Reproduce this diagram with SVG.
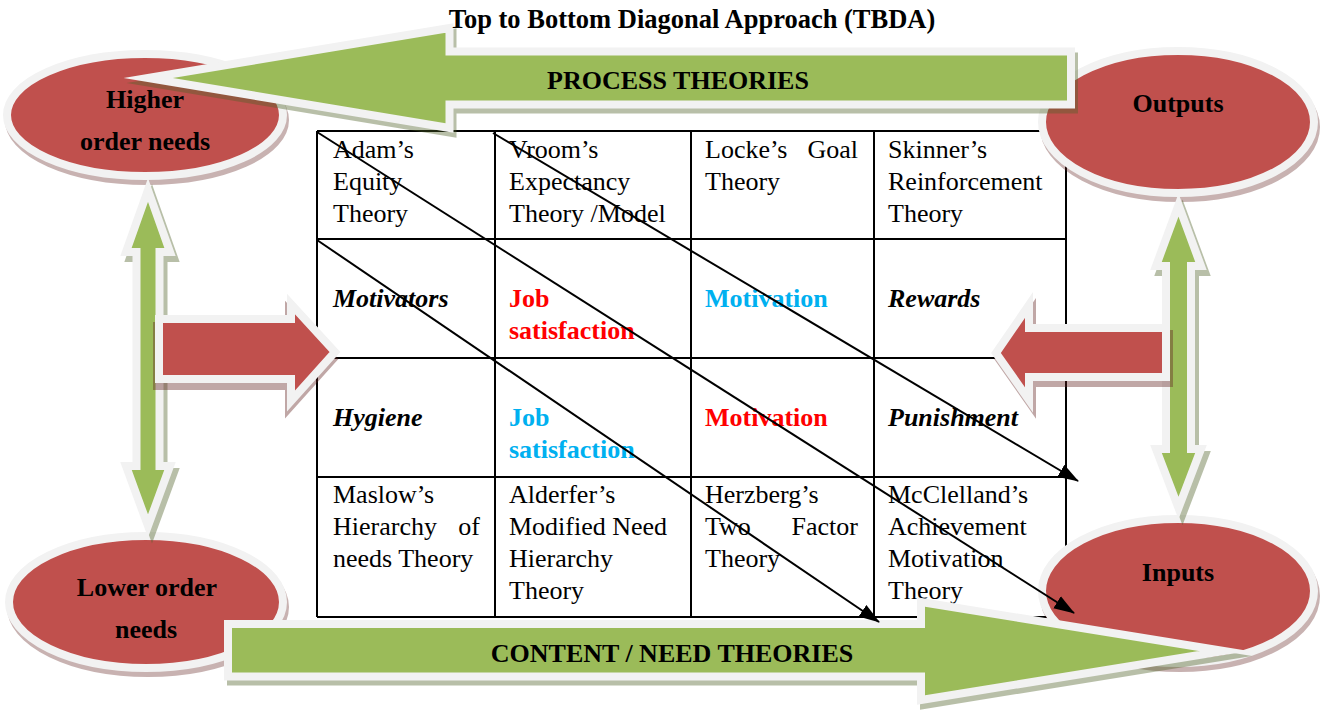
<svg xmlns="http://www.w3.org/2000/svg" width="1320" height="710" viewBox="0 0 1320 710">
<defs>
<style>
.cell{font-family:"Liberation Serif","Times New Roman",serif;font-size:26px;fill:#000}
.bi{font-weight:bold;font-style:italic}
.b{font-weight:bold}
.red{fill:#ff0000}
.blue{fill:#00b0f0}
.lbl{font-family:"Liberation Serif","Times New Roman",serif;font-size:26px;font-weight:bold;text-anchor:middle;fill:#000}
.ttl{font-size:26.5px}
.grid{stroke:#000;stroke-width:2;fill:none}
.ell{fill:#c0504d;stroke:#f2f2f2;stroke-width:8}
.ellsh{fill:#632523;stroke:#632523;stroke-width:8;opacity:.35}
.garr{fill:#9bbb59;stroke:#f2f2f2;stroke-width:8;stroke-miterlimit:12}
.gsh{fill:#4f6228;stroke:#4f6228;stroke-width:8;stroke-miterlimit:12;opacity:.4}
.rarr{fill:#c0504d;stroke:#f2f2f2;stroke-width:8;stroke-miterlimit:12}
.rsh{fill:#632523;stroke:#632523;stroke-width:8;stroke-miterlimit:12;opacity:.4}
.diag{stroke:#000;stroke-width:2;fill:none;marker-end:url(#ah)}
</style>
<marker id="ah" markerUnits="userSpaceOnUse" markerWidth="22" markerHeight="16" refX="20" refY="8" orient="auto"><path d="M0,1 L21,8 L0,15 z" fill="#000"/></marker>
</defs>

<g id="table">
<path class="grid" d="M317,131 H1066 M317,239 H1066 M317,358 H1066 M317,477 H1066 M317,617 H1066 M317,131 V617 M495,131 V617 M691,131 V617 M874,131 V617 M1066,131 V617"/>
<g id="cell-adam" class="cell"><text x="333" y="158">Adam’s</text><text x="333" y="190">Equity</text><text x="333" y="222">Theory</text></g>
<g id="cell-vroom" class="cell"><text x="509" y="158">Vroom’s</text><text x="509" y="190">Expectancy</text><text x="509" y="222">Theory /Model</text></g>
<g id="cell-locke" class="cell"><text x="705" y="158">Locke’s</text><text x="858" y="158" text-anchor="end">Goal</text><text x="705" y="190">Theory</text></g>
<g id="cell-skinner" class="cell"><text x="888" y="158">Skinner’s</text><text x="888" y="190">Reinforcement</text><text x="888" y="222">Theory</text></g>
<g id="cell-motivators" class="cell bi"><text x="333" y="307">Motivators</text></g>
<g id="cell-jobsat1" class="cell b red"><text x="509" y="307">Job</text><text x="509" y="339">satisfaction</text></g>
<g id="cell-motivation1" class="cell b blue"><text x="705" y="307">Motivation</text></g>
<g id="cell-rewards" class="cell bi"><text x="888" y="307">Rewards</text></g>
<g id="cell-hygiene" class="cell bi"><text x="333" y="426">Hygiene</text></g>
<g id="cell-jobsat2" class="cell b blue"><text x="509" y="426">Job</text><text x="509" y="458">satisfaction</text></g>
<g id="cell-motivation2" class="cell b red"><text x="705" y="426">Motivation</text></g>
<g id="cell-punishment" class="cell bi"><text x="888" y="426">Punishment</text></g>
<g id="cell-maslow" class="cell"><text x="333" y="503">Maslow’s</text><text x="333" y="535">Hierarchy</text><text x="480" y="535" text-anchor="end">of</text><text x="333" y="567">needs Theory</text></g>
<g id="cell-alderfer" class="cell"><text x="509" y="503">Alderfer’s</text><text x="509" y="535">Modified Need</text><text x="509" y="567">Hierarchy</text><text x="509" y="599">Theory</text></g>
<g id="cell-herzberg" class="cell"><text x="705" y="503">Herzberg’s</text><text x="705" y="535">Two</text><text x="858" y="535" text-anchor="end">Factor</text><text x="705" y="567">Theory</text></g>
<g id="cell-mcclelland" class="cell"><text x="888" y="503">McClelland’s</text><text x="888" y="535">Achievement</text><text x="888" y="567">Motivation</text><text x="888" y="599">Theory</text></g>
</g>

<g id="higher-order-needs">
<ellipse class="ellsh" cx="147" cy="120" rx="138" ry="61"/>
<ellipse class="ell" cx="145" cy="115" rx="138" ry="61"/>
<text class="lbl" x="145" y="108">Higher</text>
<text class="lbl" x="145" y="150">order needs</text>
</g>
<g id="outputs">
<ellipse class="ellsh" cx="1180" cy="127" rx="136" ry="71"/>
<ellipse class="ell" cx="1178" cy="122" rx="136" ry="71"/>
<text class="lbl" x="1178" y="112">Outputs</text>
</g>
<g id="lower-order-needs">
<ellipse class="ellsh" cx="148" cy="607" rx="137" ry="66"/>
<ellipse class="ell" cx="146" cy="602" rx="137" ry="66"/>
<text class="lbl" x="147" y="596">Lower order</text>
<text class="lbl" x="146" y="638">needs</text>
</g>
<g id="inputs">
<ellipse class="ellsh" cx="1180" cy="596" rx="136" ry="72"/>
<ellipse class="ell" cx="1178" cy="591" rx="136" ry="72"/>
<text class="lbl" x="1178" y="581">Inputs</text>
</g>

<g id="left-vertical-arrow">
<polygon class="gsh" transform="translate(4,6)" points="148,190 170,252 159.5,252 159.5,466 170,466 148,526 126,466 136.5,466 136.5,252 126,252"/>
<polygon class="garr" points="148,190 170,252 159.5,252 159.5,466 170,466 148,526 126,466 136.5,466 136.5,252 126,252"/>
</g>
<g id="right-vertical-arrow">
<polygon class="gsh" transform="translate(4,6)" points="1178.5,205 1201,266 1191,266 1191,449 1201,449 1178.5,508 1156,449 1166,449 1166,266 1156,266"/>
<polygon class="garr" points="1178.5,205 1201,266 1191,266 1191,449 1201,449 1178.5,508 1156,449 1166,449 1166,266 1156,266"/>
</g>
<g id="left-red-arrow">
<polygon class="rsh" transform="translate(-2,7)" points="159,319 291,319 291,304 335,352 291,401 291,379 159,379"/>
<polygon class="rarr" points="159,319 291,319 291,304 335,352 291,401 291,379 159,379"/>
</g>
<g id="right-red-arrow">
<polygon class="rsh" transform="translate(3,6)" points="1166,328 1029,328 1029,305 996,353 1029,400 1029,377 1166,377"/>
<polygon class="rarr" points="1166,328 1029,328 1029,305 996,353 1029,400 1029,377 1166,377"/>
</g>

<g id="process-theories">
<polygon class="gsh" transform="translate(3,5)" points="148,78 449.5,28 449.5,51.5 1071,51.5 1071,104.5 449.5,104.5 449.5,128"/>
<polygon class="garr" points="148,78 449.5,28 449.5,51.5 1071,51.5 1071,104.5 449.5,104.5 449.5,128"/>
<text class="lbl" x="678" y="89">PROCESS THEORIES</text>
</g>
<g id="content-need-theories">
<polygon class="gsh" transform="translate(3,5)" points="228,624 921,624 921,602 1224,651 921,700 921,676.5 228,676.5"/>
<polygon class="garr" points="228,624 921,624 921,602 1224,651 921,700 921,676.5 228,676.5"/>
<text class="lbl" x="672" y="662">CONTENT / NEED THEORIES</text>
</g>

<g id="connectors">
<line class="diag" x1="317" y1="132" x2="1074" y2="613"/>
<line class="diag" x1="493" y1="133" x2="1078" y2="481"/>
<line class="diag" x1="317" y1="240" x2="879" y2="622"/>
</g>

<g id="title">
<text class="lbl ttl" x="692" y="28">Top to Bottom Diagonal Approach (TBDA)</text>
</g>
</svg>
